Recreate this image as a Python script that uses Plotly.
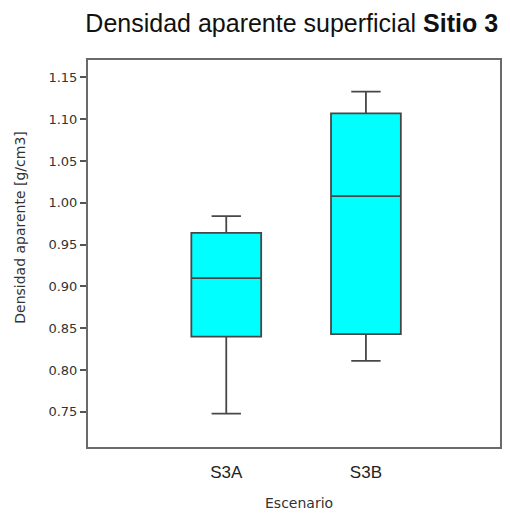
import plotly.graph_objects as go

# Box summary statistics per scenario
escenarios = ["S3A", "S3B"]
minimo = [0.748, 0.811]
q1 = [0.840, 0.843]
mediana = [0.910, 1.008]
q3 = [0.964, 1.107]
maximo = [0.984, 1.133]

y_ticks = [0.75, 0.80, 0.85, 0.90, 0.95, 1.00, 1.05, 1.10, 1.15]

fig = go.Figure()
fig.add_trace(go.Box(
    x=escenarios,
    q1=q1,
    median=mediana,
    q3=q3,
    lowerfence=minimo,
    upperfence=maximo,
    fillcolor="#00FFFF",
    line=dict(color="#474747", width=1.8),
    width=0.5,
    whiskerwidth=0.42,
    boxpoints=False,
    hoverinfo="skip",
    showlegend=False,
))

axis_font = "DejaVu Sans, sans-serif"

fig.update_layout(
    width=510,
    height=515,
    margin=dict(l=88, r=8, t=60, b=68),
    paper_bgcolor="white",
    plot_bgcolor="white",
    title=dict(
        text="Densidad aparente superficial <b>Sitio 3</b>",
        x=0.572,
        xanchor="center",
        y=0.955,
        yanchor="middle",
        font=dict(family="Liberation Sans, Arial, sans-serif", size=25, color="#111"),
    ),
    xaxis=dict(
        type="category",
        range=[-0.99, 1.96],
        showgrid=False,
        zeroline=False,
        showline=True,
        mirror=True,
        linecolor="#6a6a6a",
        linewidth=2,
        ticks="",
        ticklabelstandoff=9,
        tickfont=dict(family="Liberation Sans, Arial, sans-serif", size=17, color="#222"),
    ),
    yaxis=dict(
        range=[0.708, 1.1707],
        tickvals=y_ticks,
        ticktext=[f"{v:.2f}" for v in y_ticks],
        showgrid=False,
        zeroline=False,
        showline=True,
        mirror=True,
        linecolor="#6a6a6a",
        linewidth=2,
        ticks="outside",
        ticklen=6,
        tickwidth=1.5,
        tickcolor="#555",
        tickfont=dict(family=axis_font, size=13, color="#333"),
    ),
    annotations=[
        dict(
            text="Escenario",
            xref="paper", yref="paper",
            x=0.512, y=-0.144,
            xanchor="center", yanchor="middle",
            showarrow=False,
            font=dict(family=axis_font, size=14, color="#333"),
        ),
        dict(
            text="Densidad aparente [g/cm3]",
            xref="paper", yref="paper",
            x=-0.167, y=0.567,
            xanchor="center", yanchor="middle",
            textangle=-90,
            showarrow=False,
            font=dict(family=axis_font, size=14, color="#333"),
        ),
    ],
)

fig.write_html("out.html")
